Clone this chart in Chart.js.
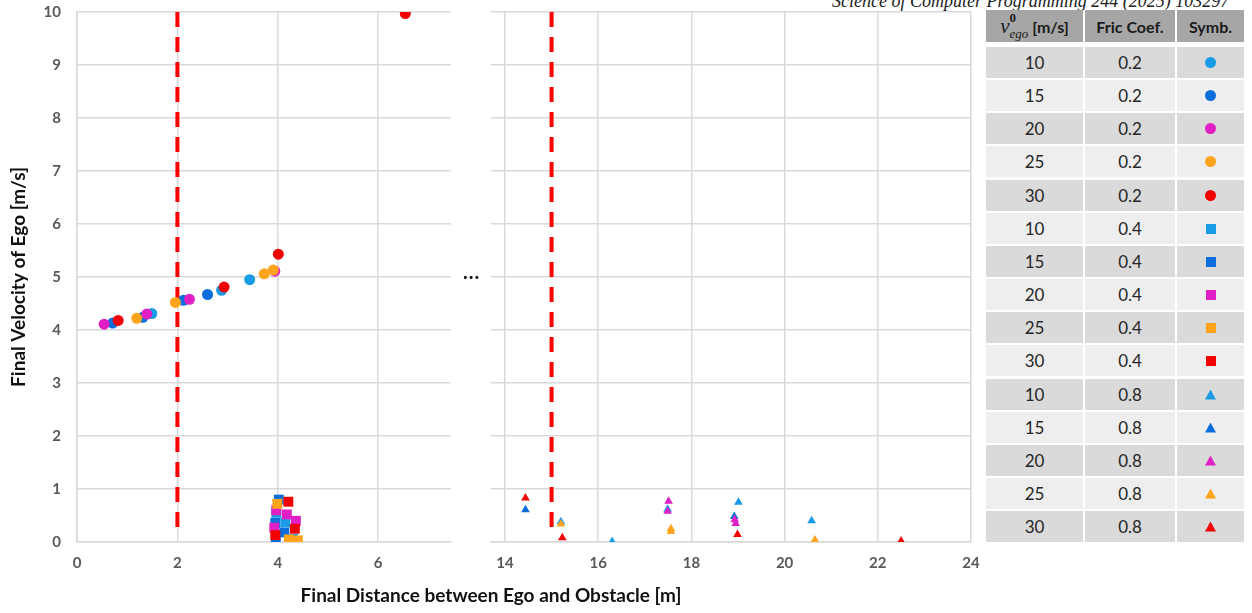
<!DOCTYPE html>
<html>
<head>
<meta charset="utf-8">
<script src="https://cdn.jsdelivr.net/npm/chart.js@4"></script>
<style>
  body { margin: 0; background: #fff; width: 1252px; height: 613px; overflow: hidden; position: relative; font-family: Lato, sans-serif; }
  .box { position: absolute; }
  #journal { position: absolute; left: 832px; top: -9px; font: italic 18px "Liberation Serif", serif; color: #222; white-space: nowrap; }
  #xTitle { position: absolute; left: 0; width: 982px; top: 583px; text-align: center; font: bold 19px Lato, sans-serif; color: #111; }
  #dots { position: absolute; left: 463px; top: 259px; font: bold 20px Lato, sans-serif; color: #111; letter-spacing: 1px; }
  .cell { position: absolute; display: flex; align-items: center; justify-content: center; font-size: 17px; color: #262626; }
  .hdr { background: #a6a6a6; font-weight: bold; font-size: 16px; color: #1a1a1a; }
  .mk { display: inline-block; }
</style>
</head>
<body>
<div id="journal">Science of Computer Programming 244 (2025) 103297</div>
<div class="box" style="left:0;top:0;width:460px;height:613px"><canvas id="leftChart"></canvas></div>
<div class="box" style="left:480px;top:0;width:505px;height:613px"><canvas id="rightChart"></canvas></div>
<div id="dots">...</div>
<div id="xTitle">Final Distance between Ego and Obstacle [m]</div>
<div id="legendTable"></div>

<script>
// initial speeds and their colours
const speeds = [10, 15, 20, 25, 30];
const colors = ['#1a9be6', '#0a6edc', '#e01fc4', '#ffa41c', '#f00000'];
const fricCoefs = ['0.2', '0.4', '0.8'];

// friction 0.2 -> circles  [distance, velocity]
const circle10 = [[1.49, 4.31], [2.88, 4.75], [3.44, 4.95]];
const circle15 = [[0.71, 4.13], [1.31, 4.24], [2.12, 4.56], [2.60, 4.67]];
const circle20 = [[0.54, 4.11], [1.39, 4.30], [2.24, 4.58], [3.94, 5.11]];
const circle25 = [[1.19, 4.22], [1.96, 4.52], [3.73, 5.06], [3.91, 5.13]];
const circle30 = [[0.82, 4.18], [2.93, 4.81], [4.01, 5.43], [6.54, 9.97]];

// friction 0.4 -> squares
const square10 = [[3.97, 0.55], [4.15, 0.37], [4.30, 0.06]];
const square15 = [[4.02, 0.80], [3.95, 0.36], [4.13, 0.18], [3.96, 0.07]];
const square20 = [[3.97, 0.60], [4.18, 0.52], [4.36, 0.40], [3.93, 0.27]];
const square25 = [[3.99, 0.72], [4.22, 0.05], [4.40, 0.03]];
const square30 = [[4.21, 0.76], [4.34, 0.25], [3.95, 0.13]];

// friction 0.8 -> triangles
const triangle10 = [[15.20, 0.38], [16.30, 0.01], [17.49, 0.62], [19.01, 0.75], [20.58, 0.40]];
const triangle15 = [[14.44, 0.61], [18.92, 0.48]];
const triangle20 = [[17.51, 0.77], [17.49, 0.58], [18.93, 0.42], [18.95, 0.35]];
const triangle25 = [[15.20, 0.34], [17.56, 0.25], [17.56, 0.20], [20.65, 0.04]];
const triangle30 = [[14.44, 0.83], [15.23, 0.08], [18.99, 0.14], [22.50, 0.02]];

// red dashed limit lines
const limitLeftX = 2;
const limitLeftY = [10, 0.23];
const limitRightX = 15;
const limitRightY = [10, 0.19];

const yTicks = [0, 1, 2, 3, 4, 5, 6, 7, 8, 9, 10];
const xTicksLeft = [0, 2, 4, 6];
const xTicksRight = [14, 16, 18, 20, 22, 24];

const circles = [circle10, circle15, circle20, circle25, circle30];
const squares = [square10, square15, square20, square25, square30];
const triangles = [triangle10, triangle15, triangle20, triangle25, triangle30];

const gridColor = '#d9d9d9';
const tickFont = { family: 'Lato', size: 15, weight: 'bold' };

function pointSet(points, i, style, r) {
    return {
        data: points.map(p => ({ x: p[0], y: p[1] })),
        backgroundColor: colors[i],
        borderColor: colors[i],
        borderWidth: 0,
        pointStyle: style,
        pointRadius: r,
        pointHoverRadius: r,
        order: -i
    };
}

function limitLine(x, ys) {
    return {
        data: ys.map(y => ({ x: x, y: y })),
        showLine: true,
        borderColor: '#ff0000',
        borderWidth: 4,
        borderDash: [15, 10],
        pointRadius: 0,
        order: 5
    };
}

function makeOptions(xMin, xMax, xTicks, leftSide) {
    return {
        responsive: true,
        maintainAspectRatio: false,
        animation: false,
        layout: { padding: { top: 12, right: leftSide ? 9 : 14, left: 0, bottom: 0 } },
        plugins: { legend: { display: false }, tooltip: { enabled: false } },
        scales: {
            x: {
                type: 'linear',
                min: xMin,
                max: xMax,
                afterBuildTicks: s => { s.ticks = xTicks.map(v => ({ value: v })); },
                afterFit: s => { s.height = 613 - 542; s.paddingLeft = 0; s.paddingRight = 0; },
                grid: { color: gridColor, lineWidth: 1.5, drawTicks: false },
                border: { color: gridColor, width: 1.5 },
                ticks: { color: '#595959', font: tickFont, padding: 12 }
            },
            y: {
                min: 0,
                max: 10,
                afterBuildTicks: s => { s.ticks = yTicks.map(v => ({ value: v })); },
                afterFit: s => { s.width = leftSide ? 77 : 11; s.paddingTop = 0; s.paddingBottom = 0; },
                grid: { color: gridColor, lineWidth: 1.5, drawTicks: false },
                border: { display: leftSide, color: gridColor, width: 1.5 },
                ticks: { display: leftSide, color: '#595959', font: tickFont, padding: 16 },
                title: {
                    display: leftSide,
                    text: 'Final Velocity of Ego [m/s]',
                    color: '#111',
                    font: { family: 'Lato', size: 19, weight: 'bold' },
                    padding: { top: 7, bottom: 0 }
                }
            }
        }
    };
}

const leftSets = [limitLine(limitLeftX, limitLeftY)];
circles.forEach((pts, i) => leftSets.push(pointSet(pts, i, 'circle', 5.5)));
squares.forEach((pts, i) => leftSets.push(pointSet(pts, i, 'rect', 7)));

const rightSets = [limitLine(limitRightX, limitRightY)];
triangles.forEach((pts, i) => rightSets.push(pointSet(pts, i, 'triangle', 5)));

new Chart(document.getElementById('leftChart'), {
    type: 'scatter',
    data: { datasets: leftSets },
    options: makeOptions(0, 7.45, xTicksLeft, true)
});

new Chart(document.getElementById('rightChart'), {
    type: 'scatter',
    data: { datasets: rightSets },
    options: makeOptions(13.7, 24, xTicksRight, false)
});

// legend table on the right
const tbl = document.getElementById('legendTable');
const colLeft = [986, 1085, 1177];
const colWidth = [97, 90, 67];

function addCell(x, y, w, h, bg, html, cls) {
    const d = document.createElement('div');
    d.className = 'cell' + (cls ? ' ' + cls : '');
    d.style.left = x + 'px';
    d.style.top = y + 'px';
    d.style.width = w + 'px';
    d.style.height = h + 'px';
    if (bg) d.style.background = bg;
    d.innerHTML = html;
    tbl.appendChild(d);
}

const vHeader = '<span style="font:italic 21px \'Liberation Serif\',serif">v</span>' +
    '<span style="display:inline-flex;flex-direction:column;line-height:11px;margin-right:4px;font:italic 13px \'Liberation Serif\',serif">' +
    '<span style="font-style:normal;font-weight:bold">0</span><span>ego</span></span>[m/s]';
addCell(colLeft[0], 10, colWidth[0], 32, null, vHeader, 'hdr');
addCell(colLeft[1], 10, colWidth[1], 32, null, 'Fric Coef.', 'hdr');
addCell(colLeft[2], 10, colWidth[2], 32, null, 'Symb.', 'hdr');

function marker(style, color) {
    if (style === 'circle') return `<span class="mk" style="width:11px;height:11px;border-radius:50%;background:${color}"></span>`;
    if (style === 'rect') return `<span class="mk" style="width:10px;height:10px;background:${color}"></span>`;
    return `<span class="mk" style="width:11px;height:10px;background:${color};clip-path:polygon(50% 0,100% 100%,0 100%)"></span>`;
}

const styles = ['circle', 'rect', 'triangle'];
let row = 0;
fricCoefs.forEach((f, fi) => {
    speeds.forEach((s, si) => {
        const y = Math.round(47 + row * 33.15);
        const bg = row % 2 === 0 ? '#dadada' : '#eeeeee';
        addCell(colLeft[0], y, colWidth[0], 31, bg, String(s));
        addCell(colLeft[1], y, colWidth[1], 31, bg, f);
        addCell(colLeft[2], y, colWidth[2], 31, bg, marker(styles[fi], colors[si]));
        row++;
    });
});
</script>
</body>
</html>
